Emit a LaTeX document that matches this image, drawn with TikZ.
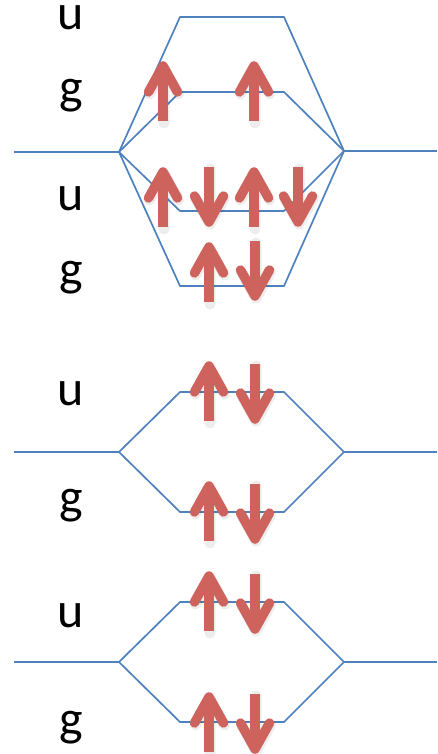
\documentclass[tikz,border=0pt]{standalone}
\usepackage{fontspec}
\setmainfont{Carlito}
\definecolor{levelblue}{RGB}{79,129,189}
\definecolor{spinred}{RGB}{205,99,92}
\tikzset{
  level/.style={draw=levelblue, line width=1.7pt, line join=round},
  spinshaft/.style={draw=spinred, line width=9.5pt, line cap=butt},
  spinhead/.style={draw=spinred, line width=9.5pt, line cap=round, line join=round},
  spinshadow/.style={draw=black, draw opacity=0.07, line width=11pt, line cap=round, line join=round},
  sym/.style={font=\fontsize{50}{55}\selectfont, anchor=base, inner sep=0pt},
  upspin/.pic={\draw[spinshadow, shift={(1,2)}] (0,0) -- (0,-52) (-14.5,-29) -- (0,-55) -- (14.5,-29);
               \draw[spinshaft] (0,0) -- (0,-52);
               \draw[spinhead] (-14.5,-29) -- (0,-55) -- (14.5,-29);},
  downspin/.pic={\draw[spinshadow, shift={(1,2)}] (0,0) -- (0,52) (-14.5,29) -- (0,55) -- (14.5,29);
               \draw[spinshaft] (0,0) -- (0,52);
               \draw[spinhead] (-14.5,29) -- (0,55) -- (14.5,29);}
}
\begin{document}
\begin{tikzpicture}[x=1pt,y=-1pt]
\useasboundingbox (0,0) rectangle (437,754);
% ---------- section 1 ----------
\coordinate (A1) at (14,152);  \coordinate (L1) at (119,152);
\coordinate (R1) at (344,151); \coordinate (B1) at (437,151);
\coordinate (ua1) at (180,17);  \coordinate (ua2) at (284,17);
\coordinate (ga1) at (180,92);  \coordinate (ga2) at (284,92);
\coordinate (ub1) at (180,211); \coordinate (ub2) at (284,211);
\coordinate (gb1) at (180,286); \coordinate (gb2) at (284,286);
\draw[level] (A1) -- (L1);
\draw[level] (R1) -- (B1);
\draw[level] (L1) -- (ua1) -- (ua2) -- (R1);
\draw[level] (L1) -- (ga1) -- (ga2) -- (R1);
\draw[level] (L1) -- (ub1) -- (ub2) -- (R1);
\draw[level] (L1) -- (gb1) -- (gb2) -- (R1);
\node[sym] (s1) at (71,30) {u};
\node[sym] (s2) at (71,104) {g};
\node[sym] (s3) at (71,210) {u};
\node[sym] (s4) at (71,285) {g};
\pic at (163,121) {upspin};
\pic at (254,121) {upspin};
\pic at (163,227) {upspin};
\pic at (209,167) {downspin};
\pic at (254,227) {upspin};
\pic at (298,167) {downspin};
\pic at (209,302) {upspin};
\pic at (255,241) {downspin};
% ---------- section 2 ----------
\coordinate (A2) at (14,452);  \coordinate (L2) at (119,452);
\coordinate (R2) at (344,452); \coordinate (B2) at (437,452);
\coordinate (uc1) at (180,392); \coordinate (uc2) at (284,392);
\coordinate (gc1) at (180,512); \coordinate (gc2) at (284,512);
\draw[level] (A2) -- (L2);
\draw[level] (R2) -- (B2);
\draw[level] (L2) -- (uc1) -- (uc2) -- (R2);
\draw[level] (L2) -- (gc1) -- (gc2) -- (R2);
\node[sym] (s5) at (71,405) {u};
\node[sym] (s6) at (71,513) {g};
\pic at (209,421) {upspin};
\pic at (255,364) {downspin};
\pic at (209,541) {upspin};
\pic at (255,484) {downspin};
% ---------- section 3 ----------
\coordinate (A3) at (14,662);  \coordinate (L3) at (119,662);
\coordinate (R3) at (344,662); \coordinate (B3) at (437,662);
\coordinate (ud1) at (180,602); \coordinate (ud2) at (284,602);
\coordinate (gd1) at (180,722); \coordinate (gd2) at (284,722);
\draw[level] (A3) -- (L3);
\draw[level] (R3) -- (B3);
\draw[level] (L3) -- (ud1) -- (ud2) -- (R3);
\draw[level] (L3) -- (gd1) -- (gd2) -- (R3);
\node[sym] (s7) at (71,627) {u};
\node[sym] (s8) at (71,735) {g};
\pic at (209,631) {upspin};
\pic at (255,574) {downspin};
\pic at (209,752) {upspin};
\pic at (255,694) {downspin};
\end{tikzpicture}
\end{document}
